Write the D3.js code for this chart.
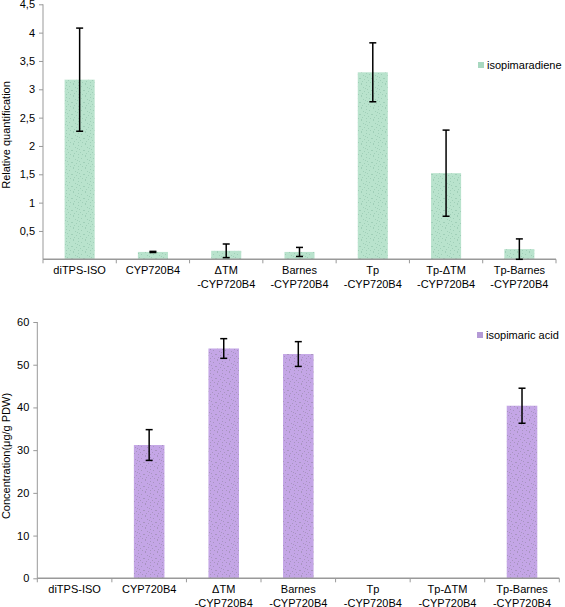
<!DOCTYPE html>
<html><head><meta charset="utf-8">
<script src="https://cdnjs.cloudflare.com/ajax/libs/d3/7.8.5/d3.min.js"></script>
<style>body{margin:0;background:#fff;} text{font-family:"Liberation Sans",Arial,sans-serif;}</style>
</head><body><svg id="c" width="565" height="607"></svg>
<script>
const categories = [["diTPS-ISO"],["CYP720B4"],["\u0394TM","-CYP720B4"],["Barnes","-CYP720B4"],["Tp","-CYP720B4"],["Tp-\u0394TM","-CYP720B4"],["Tp-Barnes","-CYP720B4"]];
const isopimaradiene = [3.17, 0.13, 0.15, 0.13, 3.30, 1.52, 0.18];
const isopimaradieneErr = [0.91, 0.01, 0.12, 0.08, 0.52, 0.76, 0.18];
const isopimaricAcid = [0, 31.2, 53.8, 52.5, 0, 0, 40.4];
const isopimaricAcidErr = [0, 3.6, 2.3, 2.9, 0, 0, 4.1];
const topTicks = [0.5,1,1.5,2,2.5,3,3.5,4,4.5];
const bottomTicks = [0,10,20,30,40,50,60];

const svg = d3.select("#c");
const defs = svg.append("defs");
const dots = [[1,0],[6,1],[9,2],[3,3],[7,5],[0,6],[4,7],[8,8],[2,9],[5,4],[10,10],[11,6],[1,11],[6,10]];
function pattern(id, base, dot){
  const p = defs.append("pattern").attr("id",id).attr("patternUnits","userSpaceOnUse").attr("width",12).attr("height",12);
  p.append("rect").attr("width",12).attr("height",12).attr("fill",base);
  dots.forEach(([x,y])=>p.append("rect").attr("x",x).attr("y",y).attr("width",1).attr("height",1).attr("fill",dot));
}
pattern("pg","#b9e3cd","#a0cfb8");
pattern("pp","#c4a6e6","#a894c0");

function panel(o){
  const g = svg.append("g");
  const x = d3.scaleBand().domain(d3.range(categories.length)).range([o.x0,o.x1]).paddingInner(0.59).paddingOuter(0.295);
  const y = d3.scaleLinear().domain([0,o.max]).range([o.y0,o.y1]);
  g.selectAll("rect.bar").data(o.vals).join("rect").attr("class","bar")
    .attr("x",(d,i)=>x(i)).attr("width",x.bandwidth())
    .attr("y",d=>y(d)).attr("height",d=>o.y0-y(d)).attr("fill",o.fill);
  const ya = g.append("g").attr("transform",`translate(${o.x0},0)`)
    .call(d3.axisLeft(y).tickValues(o.ticks).tickSize(4).tickPadding(4).tickFormat(d=>String(d).replace(".",",")));
  ya.select(".domain").attr("stroke","#999").attr("d",`M0,${o.y1}V${o.y0}`);
  ya.selectAll(".tick line").attr("stroke","#999");
  ya.selectAll(".tick text").attr("fill","#000").style("font-size","11px");
  const xa = g.append("g").attr("transform",`translate(0,${o.y0})`);
  xa.append("line").attr("x1",o.x0).attr("x2",o.x1).attr("stroke","#999").attr("stroke-width",1.5);
  const step = x.step();
  d3.range(categories.length+1).forEach(i=>{
    const xx = o.x0 + i*step;
    xa.append("line").attr("x1",xx).attr("x2",xx).attr("y1",0).attr("y2",4).attr("stroke","#999");
  });
  categories.forEach((c,i)=>{
    const t = xa.append("text").attr("x",x(i)+x.bandwidth()/2).attr("y",15).attr("text-anchor","middle").style("font-size","11px").attr("fill","#000");
    c.forEach((s,k)=>t.append("tspan").attr("x",x(i)+x.bandwidth()/2).attr("dy",k===0?0:14).text(s));
  });
  o.vals.forEach((v,i)=>{
    const e = o.errs[i]; if(!e) return;
    const cx = x(i)+x.bandwidth()/2;
    const lo = Math.max(0,v-e), hi = v+e;
    g.append("line").attr("x1",cx).attr("x2",cx).attr("y1",y(lo)).attr("y2",y(hi)).attr("stroke","#000").attr("stroke-width",1.5);
    [lo,hi].forEach(w=>g.append("line").attr("x1",cx-3.5).attr("x2",cx+3.5).attr("y1",y(w)).attr("y2",y(w)).attr("stroke","#000").attr("stroke-width",1.5));
  });
  g.append("text").attr("transform",`translate(${o.tx},${o.ty}) rotate(-90)`).attr("text-anchor","middle")
    .style("font-size","11px").text(o.title);
  g.append("rect").attr("x",o.lx).attr("y",o.ly-3).attr("width",6).attr("height",6).attr("fill",o.lfill);
  g.append("text").attr("x",o.lx+9).attr("y",o.ly+4).style("font-size","11px").text(o.label);
}

panel({x0:43,x1:556,y0:259.3,y1:4.3,max:4.5,vals:isopimaradiene,errs:isopimaradieneErr,ticks:topTicks,
  fill:"url(#pg)",lfill:"#a8d8c0",title:"Relative quantification",tx:10,ty:135,lx:478,ly:65,label:"isopimaradiene"});
panel({x0:37.3,x1:559.3,y0:578.3,y1:322,max:60,vals:isopimaricAcid,errs:isopimaricAcidErr,ticks:bottomTicks,
  fill:"url(#pp)",lfill:"#b49ad6",title:"Concentration(\u03bcg/g PDW)",tx:10,ty:456,lx:477,ly:335,label:"isopimaric acid"});
</script></body></html>
